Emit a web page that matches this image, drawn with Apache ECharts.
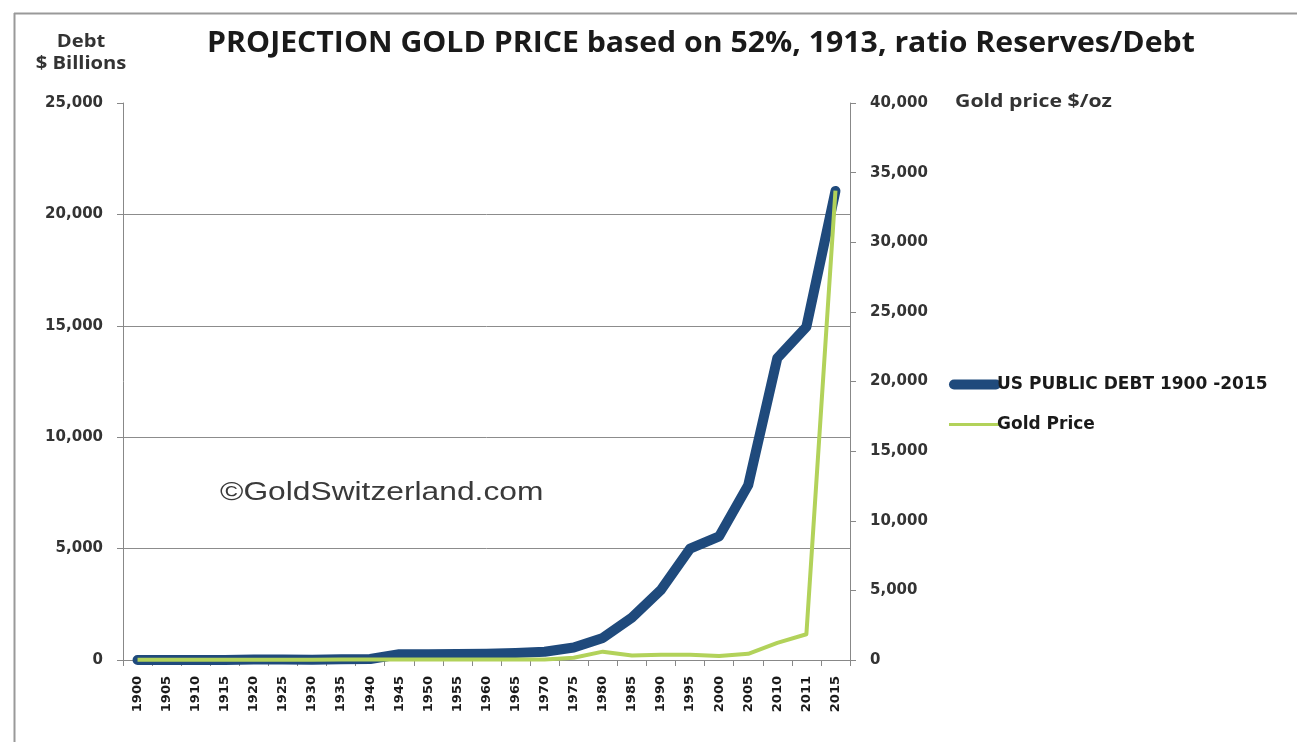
<!DOCTYPE html>
<html>
<head>
<meta charset="utf-8">
<script src="https://cdn.jsdelivr.net/npm/echarts@6/dist/echarts.min.js"></script>
<style>
  html, body { margin: 0; padding: 0; background: #fff; }
  #chart { width: 1297px; height: 742px; }
</style>
</head>
<body>
<div id="chart"></div>
<script>
// Years on the category axis
const years = ['1900','1905','1910','1915','1920','1925','1930','1935','1940','1945',
  '1950','1955','1960','1965','1970','1975','1980','1985','1990','1995',
  '2000','2005','2010','2011','2015'];

// US public debt, $ billions
const debtValues = [2, 2, 3, 5, 25, 21, 16, 29, 43, 259, 257, 274, 286, 317, 371,
  560, 990, 1900, 3150, 5000, 5550, 7850, 13550, 14950, 21050];

// Gold price, $/oz (last point is the projection)
const goldValues = [20.7, 20.7, 20.7, 20.7, 20.7, 20.7, 20.7, 35, 35, 35, 35, 35, 35, 35, 36,
  161, 600, 317, 383, 384, 279, 445, 1225, 1850, 33700];

const leftTicks = [0, 5000, 10000, 15000, 20000, 25000];
const rightTicks = [0, 5000, 10000, 15000, 20000, 25000, 30000, 35000, 40000];

const seriesNames = ['US PUBLIC DEBT 1900 -2015', 'Gold Price'];

const FONT = '"Open Sans", Lato, sans-serif';
const TICK_FONT = '"DejaVu Sans", "Open Sans", sans-serif';
const DEBT_COLOR = '#1f4a7c';
const GOLD_COLOR = '#b2d25a';
const fmt = v => v.toLocaleString('en-US');

const chart = echarts.init(document.getElementById('chart'), null, { renderer: 'canvas' });

chart.setOption({
  backgroundColor: '#ffffff',
  animation: false,
  legend: {
    orient: 'vertical',
    left: 944, top: 371,
    itemWidth: 52, itemHeight: 10, itemGap: 23,
    symbolKeepAspect: false,
    data: [
      { name: seriesNames[0], icon: 'path://M5,0H47A5,5 0 0 1 47,10H5A5,5 0 0 1 5,0Z' },
      { name: seriesNames[1], icon: 'path://M0,0M0,3.5H52V6.5H0Z M52,10' }
    ],
    textStyle: { fontFamily: TICK_FONT, fontWeight: 'bold', fontSize: 17, color: '#1a1a1a', padding: [0, 0, 0, -9] }
  },
  grid: { left: 123, right: 447, top: 103, bottom: 82, containLabel: false },
  xAxis: {
    type: 'category',
    data: years,
    boundaryGap: true,
    axisLine: { lineStyle: { color: '#888', width: 1 } },
    axisTick: { show: true, interval: 0, alignWithLabel: false, length: 6, lineStyle: { color: '#888' } },
    axisLabel: {
      interval: 0, rotate: 90, margin: 16,
      fontFamily: TICK_FONT, fontWeight: 'bold', fontSize: 13, color: '#1a1a1a'
    }
  },
  yAxis: [
    {
      type: 'value', min: leftTicks[0], max: leftTicks[leftTicks.length - 1], interval: 5000,
      position: 'left',
      axisLine: { show: true, lineStyle: { color: '#888' } },
      axisTick: { show: true, length: 6, lineStyle: { color: '#888' } },
      axisLabel: { formatter: fmt, margin: 20, fontFamily: TICK_FONT, fontWeight: 'bold', fontSize: 15, color: '#333' },
      splitLine: { show: true, lineStyle: { color: ['transparent', '#8c8c8c', '#8c8c8c', '#8c8c8c', '#8c8c8c', 'transparent'], width: 1 } }
    },
    {
      type: 'value', min: rightTicks[0], max: rightTicks[rightTicks.length - 1], interval: 5000,
      position: 'right',
      axisLine: { show: true, lineStyle: { color: '#888' } },
      axisTick: { show: true, length: 6, lineStyle: { color: '#888' } },
      axisLabel: { formatter: fmt, margin: 20, fontFamily: TICK_FONT, fontWeight: 'bold', fontSize: 15, color: '#333' },
      splitLine: { show: false }
    }
  ],
  graphic: [
    // frame lines along the top and left edge
    { type: 'line', shape: { x1: 14, y1: 13.5, x2: 1297, y2: 13.5 }, style: { stroke: '#999', lineWidth: 2 } },
    { type: 'line', shape: { x1: 14.5, y1: 13, x2: 14.5, y2: 742 }, style: { stroke: '#999', lineWidth: 2 } },
    {
      type: 'text', x: 701, y: 30, scaleX: 1.08,
      style: { text: 'PROJECTION GOLD PRICE based on 52%, 1913, ratio Reserves/Debt', fontFamily: FONT,
        fontWeight: 'bold', fontSize: 28, fill: '#1a1a1a', align: 'center' }
    },
    {
      type: 'text', x: 81, y: 31, scaleX: 1.12,
      style: { text: 'Debt\n$ Billions', fontFamily: FONT, fontWeight: 'bold', fontSize: 18, lineHeight: 22,
        fill: '#333', align: 'center' }
    },
    {
      type: 'text', x: 955, y: 93, scaleX: 1.18,
      style: { text: 'Gold price $/oz', fontFamily: FONT, fontWeight: 'bold', fontSize: 18, fill: '#333' }
    },
    {
      type: 'text', x: 220, y: 481, scaleX: 1.27,
      style: { text: '\u00A9GoldSwitzerland.com', fontFamily: '"Liberation Sans", Arial, sans-serif',
        fontSize: 25, fill: '#3a3a3a' }
    }
  ],
  series: [
    {
      name: seriesNames[0], type: 'line', yAxisIndex: 0,
      data: debtValues, symbol: 'none', smooth: false,
      lineStyle: { color: DEBT_COLOR, width: 10, join: 'round', cap: 'round' },
      itemStyle: { color: DEBT_COLOR }
    },
    {
      name: seriesNames[1], type: 'line', yAxisIndex: 1,
      data: goldValues, symbol: 'none', smooth: false,
      lineStyle: { color: GOLD_COLOR, width: 4, join: 'round' },
      itemStyle: { color: GOLD_COLOR }
    }
  ]
});
</script>
</body>
</html>
